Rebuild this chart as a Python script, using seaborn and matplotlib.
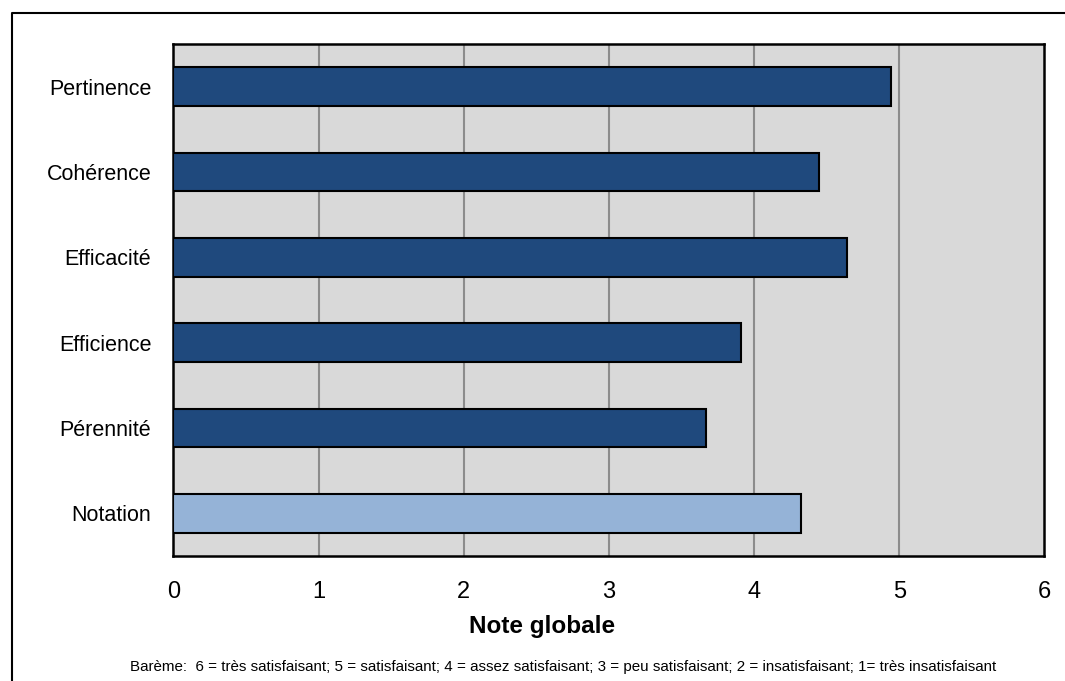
import matplotlib
matplotlib.use("Agg")
import matplotlib.pyplot as plt
from matplotlib import font_manager
from matplotlib.lines import Line2D
import seaborn as sns
import pandas as pd

categories = ["Pertinence", "Cohérence", "Efficacité", "Efficience", "Pérennité", "Notation"]
scores = [4.94, 4.45, 4.64, 3.91, 3.67, 4.32]
bar_colors = ["#1F497D", "#1F497D", "#1F497D", "#1F497D", "#1F497D", "#95B3D7"]
x_ticks = [0, 1, 2, 3, 4, 5, 6]
x_label = "Note globale"
footnote = ("Barème:  6 = très satisfaisant; 5 = satisfaisant; 4 = assez satisfaisant; "
            "3 = peu satisfaisant; 2 = insatisfaisant; 1= très insatisfaisant")

sns.set_theme(style="white")
names = {f.name for f in font_manager.fontManager.ttflist}
narrow = "Liberation Sans Narrow" in names
if narrow:
    fam = ["Liberation Sans Narrow", "DejaVu Sans"]
    ytick_fs, xtick_fs, label_fs, foot_fs = 18, 18, 21, 13
else:
    fam = ["Liberation Sans", "DejaVu Sans"]
    ytick_fs, xtick_fs, label_fs, foot_fs = 15.5, 17, 17.5, 10.9
plt.rcParams["font.family"] = fam

df = pd.DataFrame({"cat": categories, "score": scores})

fig = plt.figure(figsize=(10.65, 6.81), dpi=100)
ax = fig.add_axes([173.5 / 1065, (681 - 556) / 681, 871 / 1065, 512 / 681])
ax.set_facecolor("#D9D9D9")

sns.barplot(data=df, y="cat", x="score", hue="cat", palette=bar_colors,
            saturation=1, orient="h", width=0.45, legend=False, ax=ax,
            edgecolor="black", linewidth=1.5, zorder=3)

ax.set_xlim(0, 6)
ax.set_xticks(x_ticks)
ax.set_xticklabels([str(t) for t in x_ticks], fontsize=xtick_fs)
ax.tick_params(axis="y", labelsize=ytick_fs, length=0, pad=16, labelcolor="black")
ax.tick_params(axis="x", length=0, pad=18, labelcolor="black")
ax.set_xlabel("")
ax.set_ylabel("")
for v in x_ticks[1:-1]:
    ax.axvline(v, color="#8C8C8C", lw=1.5, zorder=1)
for s in ax.spines.values():
    s.set_visible(True)
    s.set_color("black")
    s.set_linewidth(1.8)

fig.text(542 / 1065, (681 - 633) / 681, x_label, ha="center", va="baseline",
         fontsize=label_fs, fontweight="bold", color="black")
fig.text(563 / 1065, (681 - 671) / 681, footnote, ha="center", va="baseline",
         fontsize=foot_fs, color="black")

bx = 12 / 1065
by = 1 - 13 / 681
fig.add_artist(Line2D([bx, bx, 1.0], [0.0, by, by], transform=fig.transFigure,
                      color="black", lw=1.5))

fig.savefig("out.png", dpi=100)
